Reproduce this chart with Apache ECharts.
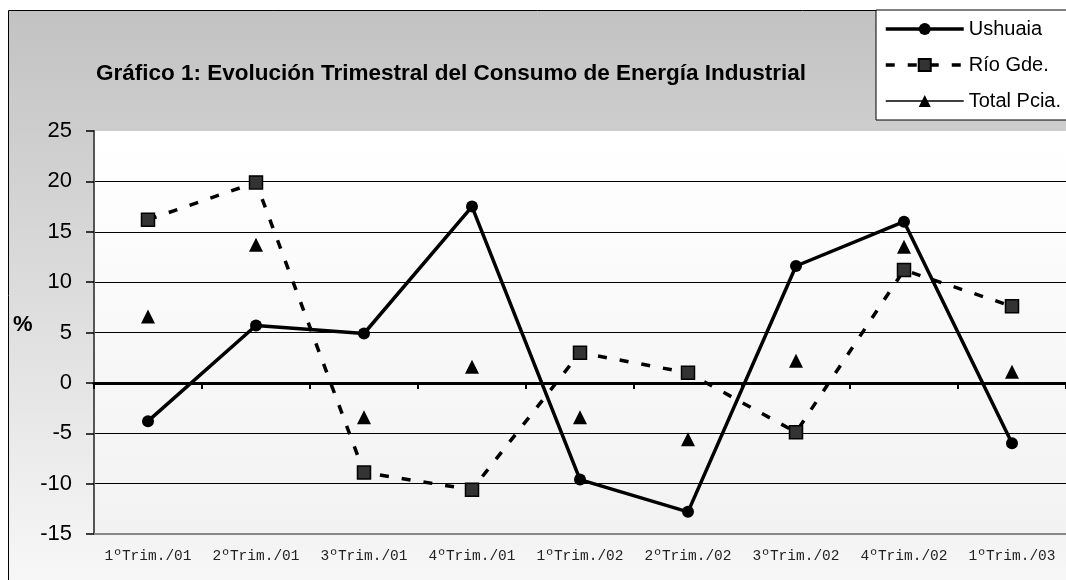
<!DOCTYPE html>
<html>
<head>
<meta charset="utf-8">
<title>Gráfico 1</title>
<script src="https://cdn.jsdelivr.net/npm/echarts@6/dist/echarts.min.js"></script>
<style>
    html, body { margin: 0; padding: 0; background: #fff; }
    #chart { width: 1066px; height: 580px; }
</style>
</head>
<body>
<div id="chart"></div>
<script>
// trimestres
const quarters = ['1ºTrim./01', '2ºTrim./01', '3ºTrim./01', '4ºTrim./01',
                  '1ºTrim./02', '2ºTrim./02', '3ºTrim./02', '4ºTrim./02', '1ºTrim./03'];
// variacion % por localidad
const ushuaia = [-3.8, 5.7, 4.9, 17.5, -9.6, -12.8, 11.6, 16.0, -6.0];
const rioGde = [16.2, 19.9, -8.9, -10.6, 3.0, 1.0, -4.9, 11.2, 7.6];
const totalPcia = [6.6, 13.7, -3.4, 1.6, -3.4, -5.6, 2.2, 13.5, 1.1];

const font = '"Liberation Sans", Arial, sans-serif';

// gridlines: bottom border grey, top none
let splitColors = ['#888', '#000', '#000', '#000', '#000', '#000', '#000', '#000', 'rgba(0,0,0,0)'];

let option = {
    animation: false,
    backgroundColor: '#fff',
    graphic: [
        {
            type: 'rect',
            z: -10,
            shape: { x: 8.5, y: 10.5, width: 1070, height: 580 },
            style: {
                fill: new echarts.graphic.LinearGradient(0, 0, 0, 1, [
                    { offset: 0, color: '#c2c2c2' },
                    { offset: 1, color: '#f8f8f8' }
                ]),
                stroke: '#000',
                lineWidth: 1
            }
        },
        {
            type: 'text',
            left: 13,
            top: 314,
            style: { text: '%', font: 'bold 22px ' + font, fill: '#000' }
        }
    ],
    title: {
        text: 'Gráfico 1: Evolución Trimestral del Consumo de Energía Industrial',
        left: 446,
        top: 57,
        textAlign: 'center',
        textStyle: { fontFamily: font, fontSize: 22.5, fontWeight: 'bold', color: '#000' }
    },
    legend: {
        orient: 'vertical',
        left: 876,
        top: 10,
        padding: [9, 40, 9, 8],
        itemWidth: 78,
        itemHeight: 15,
        itemGap: 16,
        backgroundColor: '#fff',
        borderColor: '#000',
        borderWidth: 1,
        borderRadius: 0,
        textStyle: { fontFamily: font, fontSize: 20, color: '#000' },
        data: [
            { name: 'Ushuaia', lineStyle: { width: 3.5 } },
            { name: 'Río Gde.', lineStyle: { width: 3.5 } },
            { name: 'Total Pcia.', lineStyle: { width: 1.5, opacity: 1, color: '#000' } }
        ]
    },
    grid: {
        show: true,
        left: 94,
        top: 131,
        right: -12,
        bottom: 46,
        borderWidth: 0,
        backgroundColor: new echarts.graphic.LinearGradient(0, 0, 0, 1, [
            { offset: 0, color: '#ffffff' },
            { offset: 1, color: '#f2f2f2' }
        ])
    },
    xAxis: [
        {
            type: 'category',
            data: quarters,
            boundaryGap: true,
            position: 'bottom',
            axisLine: { onZero: true, lineStyle: { color: '#000', width: 3 } },
            axisTick: { show: true, length: 6, lineStyle: { color: '#000', width: 2 } },
            axisLabel: { show: false },
            splitLine: { show: false }
        },
        {
            type: 'category',
            data: quarters,
            boundaryGap: true,
            position: 'bottom',
            axisLine: { show: true, onZero: false, lineStyle: { color: '#888', width: 2 } },
            axisTick: { show: false },
            axisLabel: {
                interval: 0,
                hideOverlap: false,
                margin: 15,
                fontFamily: '"Liberation Mono", monospace',
                fontSize: 14.5,
                color: '#222'
            },
            splitLine: { show: false }
        }
    ],
    yAxis: {
        type: 'value',
        min: -15,
        max: 25,
        interval: 5,
        axisLine: { show: true, lineStyle: { color: '#555', width: 2 } },
        axisTick: { show: true, length: 8, lineStyle: { color: '#000', width: 1.5 } },
        axisLabel: { margin: 22, fontFamily: font, fontSize: 22, color: '#000' },
        splitLine: { show: true, lineStyle: { color: splitColors, width: 1 } }
    },
    series: [
        {
            name: 'Ushuaia',
            type: 'line',
            data: ushuaia,
            symbol: 'circle',
            symbolSize: 12,
            z: 4,
            lineStyle: { color: '#000', width: 3.5 },
            itemStyle: { color: '#000' }
        },
        {
            name: 'Río Gde.',
            type: 'line',
            data: rioGde,
            symbol: 'rect',
            symbolSize: 13,
            z: 3,
            lineStyle: { color: '#000', width: 3.5, type: [9, 13] },
            itemStyle: { color: '#333', borderColor: '#000', borderWidth: 1.5 }
        },
        {
            name: 'Total Pcia.',
            type: 'line',
            data: totalPcia,
            symbol: 'triangle',
            symbolSize: 14,
            z: 3,
            lineStyle: { color: '#000', width: 0, opacity: 0 },
            itemStyle: { color: '#000' }
        }
    ]
};

let myChart = echarts.init(document.getElementById('chart'));
myChart.setOption(option);
</script>
</body>
</html>
